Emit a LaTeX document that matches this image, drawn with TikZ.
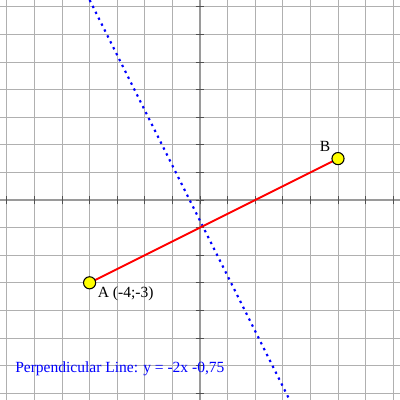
\documentclass[tikz,border=0pt]{standalone}
\usepackage{fontspec}
\setmainfont{Liberation Serif}
\usetikzlibrary{positioning}
\definecolor{gridgray}{HTML}{B0B0B0}
\definecolor{axisgray}{HTML}{9A9A9A}
\definecolor{tickgray}{HTML}{505050}
\definecolor{segred}{HTML}{FF0000}
\definecolor{perpblue}{HTML}{0000FF}
\definecolor{ptyellow}{HTML}{FFFF00}

\begin{document}
\begin{tikzpicture}[font=\fontsize{16}{19}\selectfont,
    ptmark/.style={circle,draw=black,fill=ptyellow,line width=1.1pt,minimum size=12.5pt,inner sep=0pt},
    ptlabel/.style={inner sep=0pt,text=black}]
  \useasboundingbox (-7.246,-7.246) rectangle (7.246,7.246);
  \fill[white] (-7.246,-7.246) rectangle (7.246,7.246);
  % grid and axes
  \draw[gridgray,line width=0.8pt] (-7.246,-7.246) grid (7.246,7.246);
  \draw[axisgray,line width=2pt] (-7.246,0)--(7.246,0);
  \draw[axisgray,line width=2pt] (0,-7.246)--(0,7.246);
  \foreach \k in {-7,...,7}{
     \draw[tickgray,line width=1pt] (\k,-0.16)--(\k,0.16);
     \draw[tickgray,line width=1pt] (-0.16,\k)--(0.16,\k);}
  % perpendicular line y = -2x - 0.75
  \coordinate (ptop) at (-4,7.246);
  \coordinate (pbot) at (3.248,-7.246);
  \draw[perpblue,line width=2.2pt,dash pattern=on 2.4pt off 4.4pt] (ptop)--(pbot);
  % segment AB
  \coordinate (A) at (-4,-3);
  \coordinate (B) at (5,1.5);
  \draw[segred,line width=2pt] (A)--(B);
  \node[ptmark] (ptA) at (A) {};
  \node[ptmark] (ptB) at (B) {};
  \node[ptlabel,anchor=north west] (labA) at ([xshift=3.5pt,yshift=1pt]ptA.south east) {A (-4;-3)};
  \node[ptlabel,anchor=south east] (labB) at ([xshift=-3pt,yshift=2pt]ptB.north west) {B};
  \node[ptlabel,text=perpblue,anchor=base west] (eqn) at (-6.7,-6.25)
       {Perpendicular Line: y = -2x -0,75};
\end{tikzpicture}
\end{document}
